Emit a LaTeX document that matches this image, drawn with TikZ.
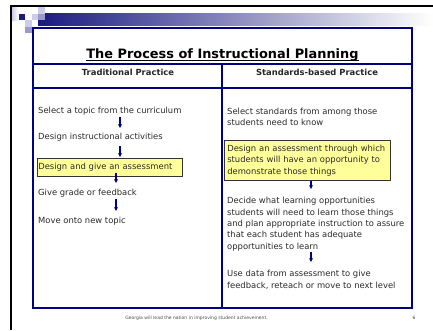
\documentclass[tikz,border=0pt]{standalone}
\usepackage{fontspec}
\setmainfont{DejaVu Sans}
\usetikzlibrary{arrows.meta,shadows}
\definecolor{navyb}{HTML}{000080}
\definecolor{txt}{HTML}{2A2A2A}
\definecolor{ybox}{HTML}{FFFF99}
\definecolor{sqnavy}{HTML}{1A1A80}
\definecolor{sqlight}{HTML}{CCCCE8}
\definecolor{sqmed}{HTML}{9A9ACC}
\definecolor{sqpale}{HTML}{E4E4F2}
\newcommand\flstrut{\rule{0pt}{7pt}}
\pgfdeclarelayer{bg}
\pgfsetlayers{bg,main}
\begin{document}
\begin{tikzpicture}[x=1pt,y=-1pt,
  body/.style={anchor=north west, inner sep=0pt, align=left, text=txt,
    font=\fontsize{8.4}{11.3}\selectfont},
  hbox/.style={anchor=north west, draw=black!80, line width=0.6pt, fill=ybox,
    inner ysep=0pt, align=left, text=txt, font=\fontsize{8.4}{11.3}\selectfont,
    drop shadow={shadow xshift=1pt, shadow yshift=-1pt, fill=black!45, opacity=1}},
  arr/.style={draw=navyb, line width=1.4pt, -{Triangle[width=3.6pt,length=3.6pt]}},
  grid/.style={draw=navyb, line width=2pt},
  head/.style={anchor=base, inner sep=0pt, font=\bfseries\fontsize{8.4}{10}\selectfont, text=black!85},
  foot/.style={anchor=base, inner sep=0pt, font=\fontsize{4.5}{6}\selectfont, text=black!70}]
\useasboundingbox (0,0) rectangle (433,330);
\fill[white] (0,0) rectangle (433,330);
% slide frame
\draw[black, line width=2pt] (10,5.5) -- (433,5.5);
\draw[black, line width=2pt] (11,5) -- (11,330);
% header band and squares
\shade[left color=sqnavy, right color=white] (38,13) rectangle (433,25);
\shade[left color=sqlight, right color=white] (12,7) rectangle (18.5,20);
\fill[sqnavy] (18.5,13.5) rectangle (25,20);
\fill[sqlight] (31.5,13.5) rectangle (38,20);
\fill[sqmed] (38,13.5) rectangle (44.5,20);
\fill[sqlight] (38,7) rectangle (44.5,13.5);
\fill[sqlight] (25,20) rectangle (31.5,26.5);
\fill[sqmed] (25,26.5) rectangle (31.5,33);
% table
\draw[grid] (33,28) rectangle (412,308);
\draw[grid] (33,64) -- (412,64);
\draw[grid] (33,88) -- (412,88);
\draw[grid] (222,64) -- (222,308);
% title
\node[anchor=base, inner sep=0pt, font=\bfseries\fontsize{12.9}{15}\selectfont] (title) at (222.5,58.5) {The Process of Instructional Planning};
\draw[line width=1pt] ([yshift=-2.4pt]title.base west) -- ([yshift=-2.4pt]title.base east);
\node[head] (h1) at (128,75.5) {Traditional Practice};
\node[head] (h2) at (317,75.5) {Standards-based Practice};
% left column
\node[body] (l1) at (38,106.3) {\flstrut Select a topic from the curriculum};
\node[body] (l2) at (38,132.5) {\flstrut Design instructional activities};
\node[hbox, text width=143pt, inner xsep=1pt, minimum height=18pt] (l3) at (37,158) {\flstrut Design and give an assessment};
\node[body] (l4) at (38,188.5) {\flstrut Give grade or feedback};
\node[body] (l5) at (38,216.5) {\flstrut Move onto new topic};
\coordinate (xa) at (120,0);
\coordinate (xb) at (116,0);
\draw[arr, shorten <=1.5pt, shorten >=4.5pt] (l1.south -| xa) -- (l2.north -| xa);
\draw[arr, shorten <=4.4pt, shorten >=1pt] (l2.south -| xa) -- (l3.north -| xa);
\draw[arr, shorten <=-4pt, shorten >=5.5pt] (l3.south -| xb) -- (l4.north -| xb);
\draw[arr, shorten <=1.4pt, shorten >=5.5pt] (l4.south -| xb) -- (l5.north -| xb);
% right column
\node[body] (r1) at (227,107) {\flstrut Select standards from among those\\students need to know};
\node[hbox, text width=160pt, inner xsep=3pt, minimum height=40pt] (r2) at (224,140) {\flstrut Design an assessment through which\\students will have an opportunity to\\demonstrate those things};
\node[body] (r3) at (227,196.7) {\flstrut Decide what learning opportunities\\students will need to learn those things\\and plan appropriate instruction to assure\\that each student has adequate\\opportunities to learn};
\node[body] (r4) at (227,269.7) {\flstrut Use data from assessment to give\\feedback, reteach or move to next level};
\coordinate (xc) at (311,0);
\begin{pgfonlayer}{bg}
\draw[arr, shorten <=6.8pt, shorten >=-3pt] (r1.south -| xc) -- (r2.north -| xc);
\end{pgfonlayer}
\draw[arr, shorten >=7.7pt] (r2.south -| xc) -- (r3.north -| xc);
\draw[arr, shorten <=0.9pt, shorten >=7.7pt] (r3.south -| xc) -- (r4.north -| xc);
% footer
\node[foot] (f1) at (196.5,319) {Georgia will lead the nation in improving student achievement.};
\node[foot] (f2) at (414,319) {6};
\end{tikzpicture}
\end{document}
